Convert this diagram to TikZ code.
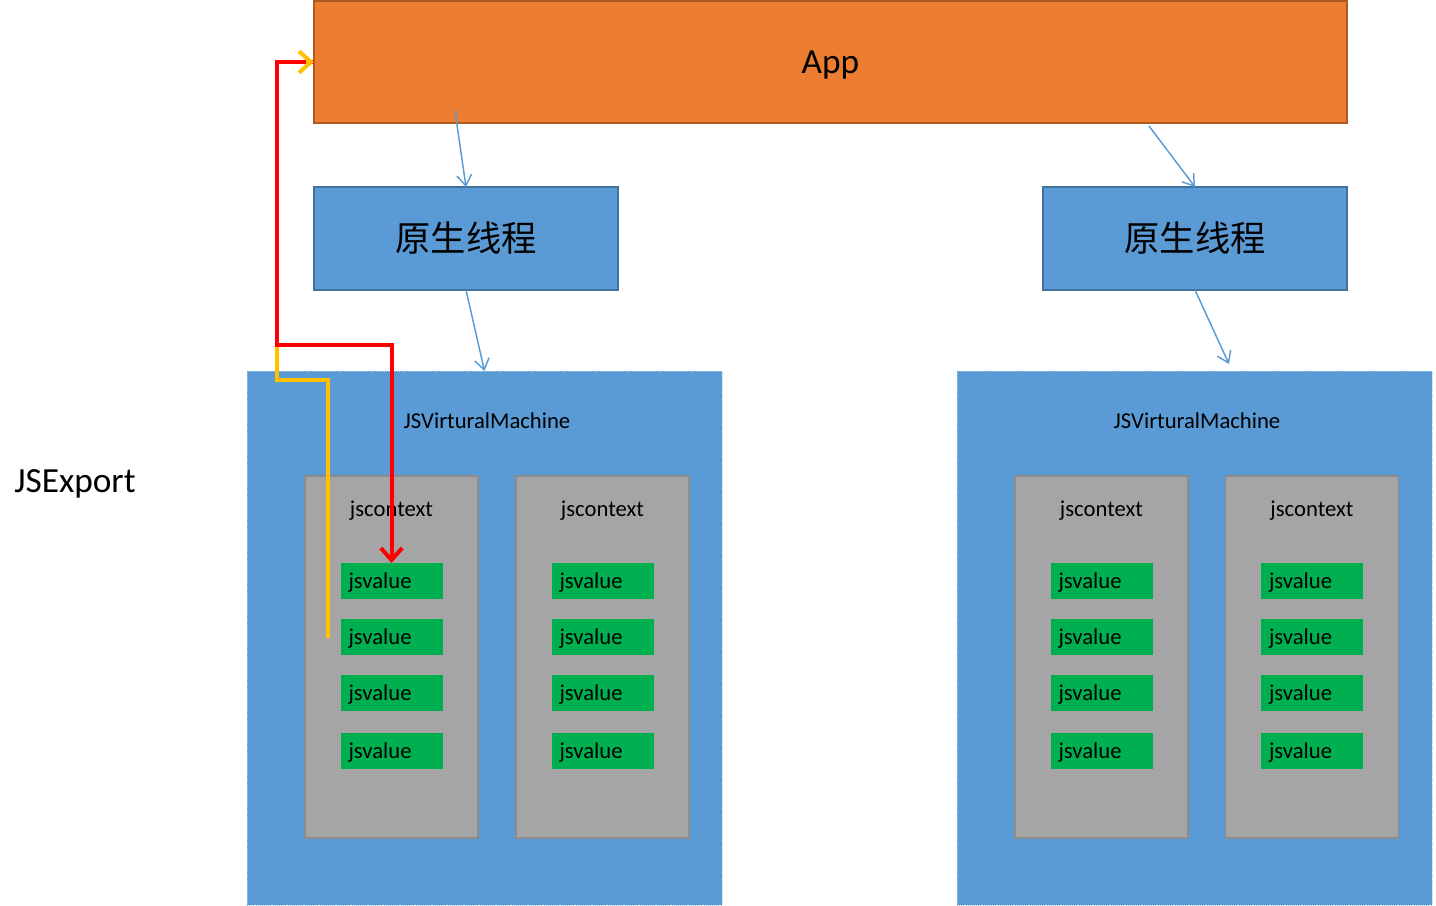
\documentclass[tikz,border=0pt]{standalone}
\usepackage{fontspec}
\setmainfont{Carlito}
\newfontfamily\cjk{Noto Sans CJK SC}
\usetikzlibrary{arrows.meta}
\definecolor{apporange}{HTML}{ED7D31}
\definecolor{appedge}{HTML}{AE5A21}
\definecolor{boxblue}{HTML}{5B9BD5}
\definecolor{boxedge}{HTML}{41719C}
\definecolor{dotedge}{HTML}{A9C8E8}
\definecolor{ctxgray}{HTML}{A5A5A5}
\definecolor{ctxedge}{HTML}{8C8C8C}
\definecolor{valgreen}{HTML}{00B050}
\definecolor{yel}{HTML}{FFC000}
\tikzset{
  smallfont/.style={font=\fontsize{17}{20}\selectfont},
  bigfont/.style={font=\fontsize{26.5}{30}\selectfont},
  appbox/.style={draw=appedge, fill=apporange, line width=1pt, inner sep=0pt, outer sep=0pt,
    minimum width=774.75pt, minimum height=91.5pt, text depth=0pt, bigfont},
  threadbox/.style={draw=boxedge, fill=boxblue, line width=1pt, inner sep=0pt, outer sep=0pt,
    minimum width=228pt, minimum height=77.25pt, font=\fontsize{26.5}{30}\cjk},
  vmbox/.style={draw=dotedge, densely dotted, fill=boxblue, line width=0.6pt, inner sep=0pt, outer sep=0pt,
    minimum width=356.25pt, minimum height=400.5pt},
  ctxbox/.style={draw=ctxedge, fill=ctxgray, line width=0.8pt, inner sep=0pt, outer sep=0pt,
    minimum width=129.75pt, minimum height=271.5pt},
  valbox/.style={fill=valgreen, inner ysep=0pt, inner xsep=6pt, outer sep=0pt, text depth=0pt,
    minimum height=27pt, text width=64.5pt, align=left, smallfont},
  lbl/.style={smallfont, inner sep=0pt},
  bluearrow/.style={draw=boxblue, line width=1.1pt, -{Straight Barb[length=8pt,width=11pt]}},
  redline/.style={draw=red, line width=3pt, -{Straight Barb[length=9pt,width=16pt]}},
  yelline/.style={draw=yel, line width=3pt},
  yeltip/.style={draw=yel, line width=3pt, -{Straight Barb[length=9pt,width=16pt]}},
}
\begin{document}
\begin{tikzpicture}[x=0.75pt,y=-0.75pt]
\useasboundingbox (0,0) rectangle (1436,906);

\node[appbox] (app) at (830.5,62) {App};
\node[threadbox] (tl) at (466,238.5) {原生线程};
\node[threadbox] (tr) at (1195,238.5) {原生线程};

\node[vmbox] (vml) at (484.5,638) {};
\node[vmbox] (vmr) at (1194.5,638) {};
\node[lbl] (vmllbl) at (487,421) {JSVirturalMachine};
\node[lbl] (vmrlbl) at (1197,421) {JSVirturalMachine};

\foreach \n/\x in {c1/391.5, c2/602.5, c3/1101.5, c4/1312}{
  \node[ctxbox] (\n) at (\x,657) {};
  \node[lbl] (\n lbl) at (\x,510.5) {jscontext};
  \foreach \k/\y in {a/581, b/637, c/693, d/751}{
    \node[valbox] (\n\k) at (\x,\y) {jsvalue};
  }
}

\node[bigfont, inner sep=0pt] (jsexport) at (75,484) {JSExport};

% blue arrows
\coordinate (s1) at (455,111);
\coordinate (s3) at (1149,126);
\coordinate (e4) at (1229,364);
\draw[bluearrow] (s1) -- (tl.north);
\draw[bluearrow] (tl.south) -- (vml.north);
\draw[bluearrow] (s3) -- (tr.north);
\draw[bluearrow] (tr.south) -- (e4);

% yellow and red paths
\coordinate (ys) at (328,638);
\coordinate (yc) at (277,380);
\coordinate (rc) at (277,345);
\coordinate (ytip) at (306,62);
\draw[yelline] (ys) |- (yc) |- (app.west);
\draw[redline] (app.west) -| (rc) -| (c1a.north);
\draw[yeltip] (ytip) -- (app.west);
\end{tikzpicture}
\end{document}
